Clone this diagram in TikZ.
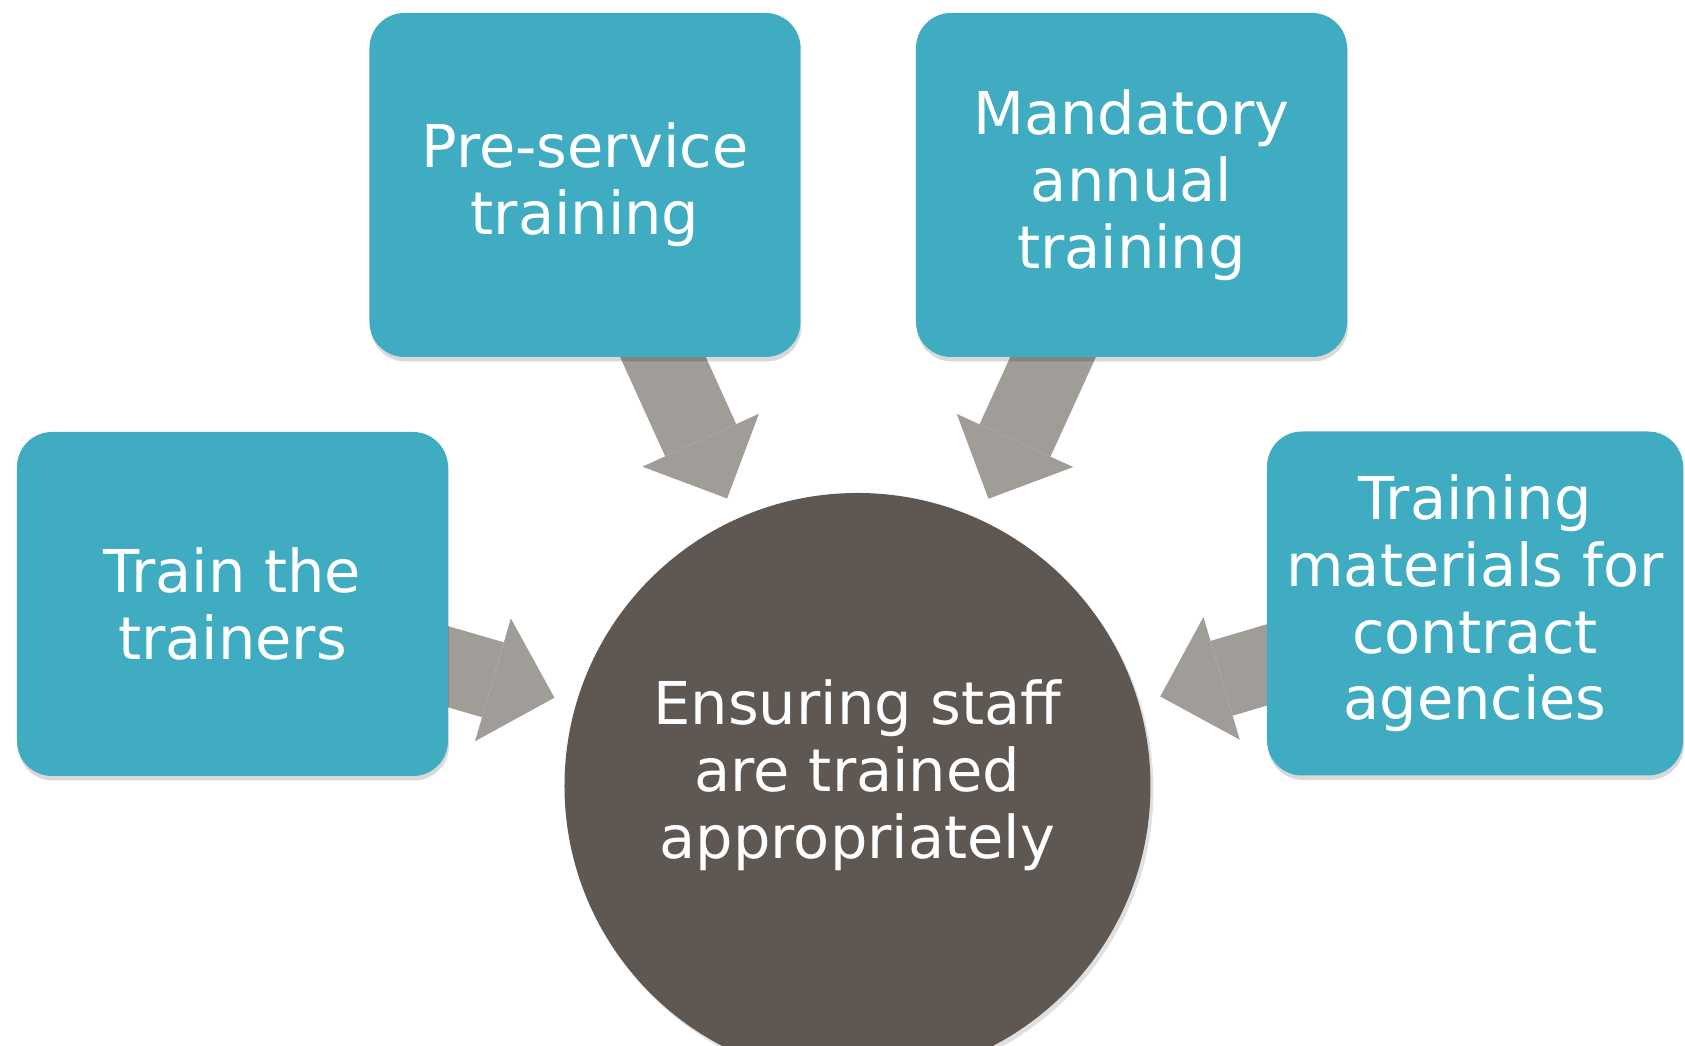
\documentclass[tikz,border=0pt]{standalone}
\usepackage{fontspec}
\setmainfont{DejaVu Sans}
\usepackage{tikz}
\usetikzlibrary{shapes,arrows.meta,shadows,backgrounds}
\definecolor{boxteal}{HTML}{3FACC1}
\definecolor{hubbrown}{HTML}{5E5752}
\definecolor{arrowgray}{HTML}{A09D98}
\tikzstyle{block} = [rectangle, fill=boxteal, text=white, align=center,
    rounded corners=0.35cm, minimum width=4.31cm, minimum height=3.44cm,
    font=\fontsize{16.8}{19}\selectfont,
    drop shadow={fill=black, opacity=0.15, shadow xshift=0.01cm, shadow yshift=-0.045cm}]
\tikzstyle{hub} = [circle, fill=hubbrown, text=white, align=center,
    minimum size=5.86cm, inner sep=0pt, text depth=0.34cm,
    font=\fontsize{16.8}{19}\selectfont,
    drop shadow={fill=black, opacity=0.12, shadow xshift=0.03cm, shadow yshift=-0.04cm}]
\tikzstyle{fatarrow} = [draw=arrowgray, line width=0.78cm,
    -{Triangle[width=1.28cm, length=0.64cm, line width=0pt]},
    shorten <=-0.4cm, shorten >=0.22cm]

\begin{document}
\begin{tikzpicture}
    \useasboundingbox (-8.575,-2.60) rectangle (8.275,7.86);
    % Place nodes
    \node [hub] (goal) {Ensuring staff\\are trained\\appropriately};
    \node [block, left of=goal, node distance=6.25cm, yshift=1.82cm] (trainers) {Train the\\trainers};
    \node [block, left of=goal, node distance=2.725cm, yshift=6.01cm] (preService) {Pre-service\\training};
    \node [block, right of=goal, node distance=2.74cm, yshift=6.01cm] (mandatory) {Mandatory\\annual\\training};
    \node [block, right of=goal, node distance=6.175cm, yshift=1.825cm, minimum width=4.16cm] (contractMaterials) {Training\\materials for\\contract\\agencies};
%
    \begin{scope}[on background layer]
    \path [fatarrow] (trainers) -- (goal);
    \path [fatarrow] (preService) -- (goal);
    \path [fatarrow] (mandatory) -- (goal);
    \path [fatarrow] (contractMaterials) -- (goal);
    \end{scope}
\end{tikzpicture}
\end{document}
